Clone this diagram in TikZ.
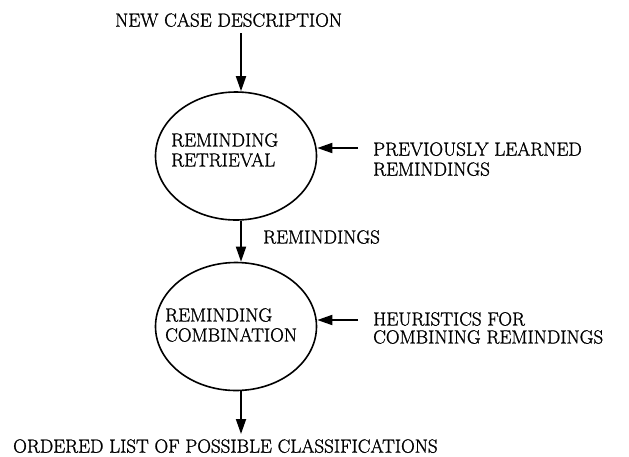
\documentclass[tikz,border=0pt]{standalone}
\usepackage{fontspec}
\setmainfont{Latin Modern Roman}[FakeBold=1.2]
\usetikzlibrary{arrows.meta,shapes.geometric}
\begin{document}
\begin{tikzpicture}[x=1pt,y=-1pt,
  txt/.style={font=\fontsize{19}{20}\selectfont, inner sep=0pt, align=left, anchor=north west},
  proc/.style={ellipse, draw, line width=1.6pt, minimum width=161pt, minimum height=128pt, inner sep=0pt},
  flow/.style={line width=1.8pt, -{Triangle[length=15pt,width=10pt]}}]
\useasboundingbox (0,0) rectangle (629,456);

% processes
\node[proc] (e1) at (236,156) {};
\node[proc] (e2) at (236,326.5) {};
\node[txt] (t1) at (171,133) {REMINDING\\RETRIEVAL};
\node[txt] (t2) at (165,308) {REMINDING\\COMBINATION};

% data labels
\node[txt] (input) at (115,13) {NEW CASE DESCRIPTION};
\node[txt] (learned) at (373,142) {PREVIOUSLY LEARNED\\REMINDINGS};
\node[txt] (rem) at (263,230) {REMINDINGS};
\node[txt] (heur) at (373,312) {HEURISTICS FOR\\[-2pt]COMBINING REMINDINGS};
\node[txt] (output) at (13,439) {ORDERED LIST OF POSSIBLE CLASSIFICATIONS};

% arrow end points
\coordinate (cin) at (241,33);
\coordinate (cr1) at (358,148);
\coordinate (cr2) at (358,320);
\coordinate (cout) at (241,434);

% flows
\draw[flow] (cin) -- (cin |- e1.north);
\draw[flow] (cr1) -- (e1.east |- cr1);
\draw[flow] (cin |- e1.south) -- (cin |- e2.north);
\draw[flow] (cr2) -- (e2.east |- cr2);
\draw[flow] (cin |- e2.south) -- (cout);
\end{tikzpicture}
\end{document}
